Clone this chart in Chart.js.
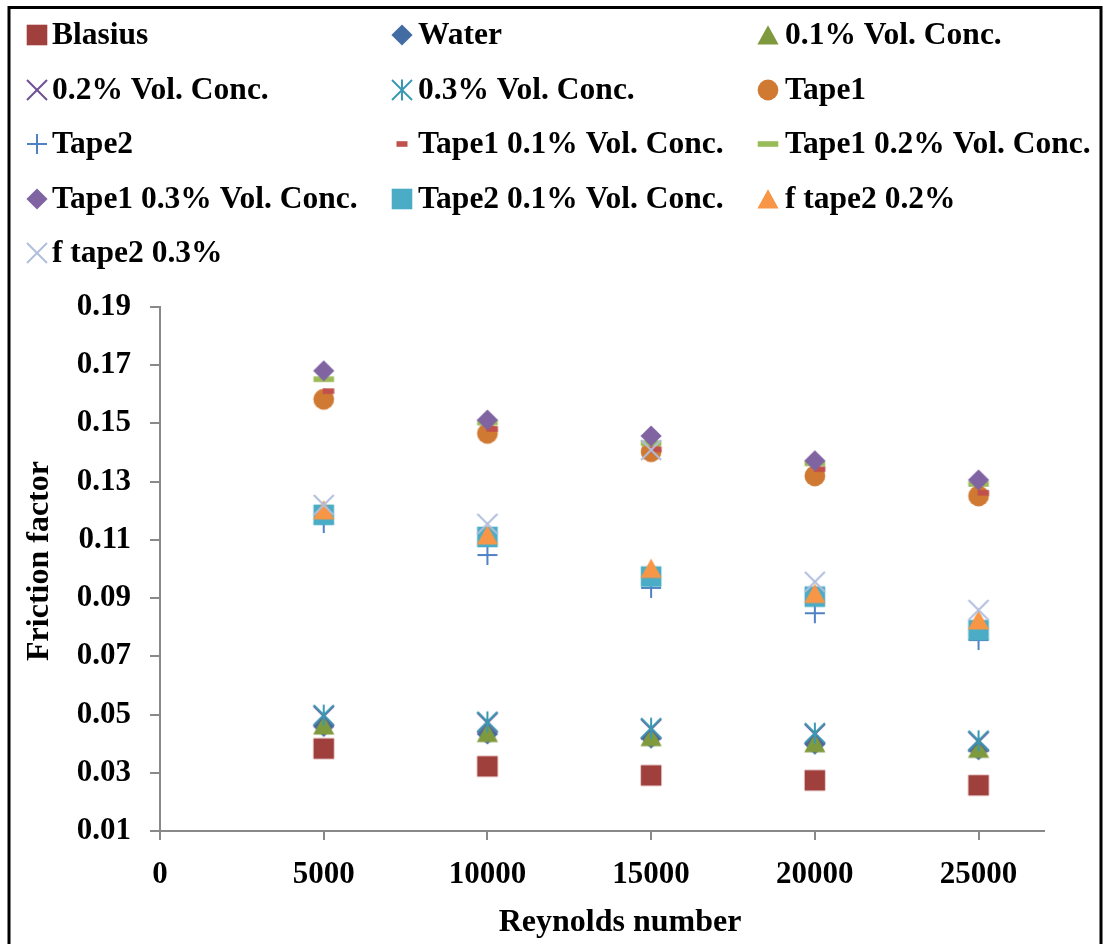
<!DOCTYPE html>
<html>
<head>
<meta charset="utf-8">
<title>Friction factor vs Reynolds number</title>
<script src="https://cdn.jsdelivr.net/npm/chart.js@4.4.1/dist/chart.umd.min.js"></script>
<style>
  html, body { margin: 0; padding: 0; background: #ffffff; }
  canvas { display: block; }
</style>
</head>
<body>
<canvas id="chart" width="1105" height="944"></canvas>
<script>
// Reynolds numbers at which every series was measured
const reynolds = [5000, 10000, 15000, 20000, 25000];

// Friction factor series
const blasius          = [0.0383, 0.0322, 0.0291, 0.0274, 0.0257];
const water            = [0.0459, 0.0433, 0.0419, 0.0398, 0.0379];
const conc01           = [0.0464, 0.0438, 0.0424, 0.0403, 0.0384];
const conc02           = [0.0495, 0.0472, 0.0450, 0.0433, 0.0407];
const conc03           = [0.0498, 0.0475, 0.0453, 0.0436, 0.0410];
const tape1            = [0.1583, 0.1466, 0.1403, 0.1320, 0.1251];
const tape2            = [0.1158, 0.1048, 0.0935, 0.0848, 0.0756];
const tape1Conc01      = [0.1611, 0.1481, 0.1411, 0.1343, 0.1262];
const tape1Conc02      = [0.1652, 0.1503, 0.1432, 0.1363, 0.1292];
const tape1Conc03      = [0.1681, 0.1512, 0.1457, 0.1372, 0.1306];
const tape2Conc01      = [0.1186, 0.1110, 0.0974, 0.0905, 0.0790];
const fTape2Conc02     = [0.1203, 0.1117, 0.1002, 0.0916, 0.0825];
const fTape2Conc03     = [0.1220, 0.1155, 0.1409, 0.0956, 0.0859];

// Series names, in legend order
const seriesNames = [
  'Blasius', 'Water', '0.1% Vol. Conc.',
  '0.2% Vol. Conc.', '0.3% Vol. Conc.', 'Tape1',
  'Tape2', 'Tape1 0.1% Vol. Conc.', 'Tape1 0.2% Vol. Conc.',
  'Tape1 0.3% Vol. Conc.', 'Tape2 0.1% Vol. Conc.', 'f tape2 0.2%',
  'f tape2 0.3%'
];
const seriesValues = [
  blasius, water, conc01, conc02, conc03, tape1, tape2,
  tape1Conc01, tape1Conc02, tape1Conc03, tape2Conc01, fTape2Conc02, fTape2Conc03
];

// Axis tick values
const frictionTicks = [0.01, 0.03, 0.05, 0.07, 0.09, 0.11, 0.13, 0.15, 0.17, 0.19];
const reynoldsTicks = [0, 5000, 10000, 15000, 20000, 25000];

// Marker look for each series
const seriesStyles = [
  { shape: 'square',    color: '#A0403C' },
  { shape: 'diamond',   color: '#436CA3' },
  { shape: 'triangle',  color: '#7F9A3E' },
  { shape: 'x',         color: '#6D4F93' },
  { shape: 'asterisk',  color: '#3A98B2' },
  { shape: 'circle',    color: '#CF7932' },
  { shape: 'plus',      color: '#4F81C4' },
  { shape: 'dashRight', color: '#C0504D', legendShape: 'dashSmall' },
  { shape: 'dash',      color: '#9BBB59' },
  { shape: 'diamond',   color: '#8064A2' },
  { shape: 'square',    color: '#4BACC6' },
  { shape: 'triangle',  color: '#F79646' },
  { shape: 'x',         color: '#AFBEDD' }
];

const FONT_FAMILY = "'Times New Roman', 'Liberation Serif', serif";

// Small canvas images used as point styles
function makeMarker(shape, color) {
  const size = 24;
  const c = document.createElement('canvas');
  c.width = size; c.height = size;
  const g = c.getContext('2d');
  const m = size / 2;
  g.fillStyle = color;
  g.strokeStyle = color;
  g.lineWidth = 2;
  g.lineCap = 'butt';
  const line = (x1, y1, x2, y2) => { g.beginPath(); g.moveTo(x1, y1); g.lineTo(x2, y2); g.stroke(); };
  switch (shape) {
    case 'square':
      g.fillRect(m - 10.3, m - 10.3, 20.6, 20.6);
      break;
    case 'diamond':
      g.beginPath();
      g.moveTo(m, m - 10.6); g.lineTo(m + 10.6, m); g.lineTo(m, m + 10.6); g.lineTo(m - 10.6, m);
      g.closePath(); g.fill();
      break;
    case 'circle':
      g.beginPath(); g.arc(m, m, 10.4, 0, Math.PI * 2); g.fill();
      break;
    case 'triangle':
      g.beginPath();
      g.moveTo(m, m - 9.8); g.lineTo(m + 10.6, m + 9.6); g.lineTo(m - 10.6, m + 9.6);
      g.closePath(); g.fill();
      break;
    case 'x':
      line(m - 10, m - 10, m + 10, m + 10);
      line(m + 10, m - 10, m - 10, m + 10);
      break;
    case 'asterisk':
      line(m - 10, m - 10, m + 10, m + 10);
      line(m + 10, m - 10, m - 10, m + 10);
      line(m, m - 10.5, m, m + 10.5);
      break;
    case 'plus':
      line(m - 10, m, m + 10, m);
      line(m, m - 10, m, m + 10);
      break;
    case 'dash':
      g.fillRect(m - 10.3, m - 2.8, 20.6, 5.6);
      break;
    case 'dashRight':
      g.fillRect(m - 1, m - 2.8, 11.5, 5.6);
      break;
    case 'dashSmall':
      g.fillRect(m - 5.5, m - 2.8, 11, 5.6);
      break;
  }
  return c;
}

const pointImages = seriesStyles.map(s => makeMarker(s.shape, s.color));
const legendImages = seriesStyles.map(s => makeMarker(s.legendShape || s.shape, s.color));

// Later series are painted over earlier ones
const datasets = seriesNames.map((name, i) => ({
  label: name,
  data: reynolds.map((re, k) => ({ x: re, y: seriesValues[i][k] })),
  pointStyle: pointImages[i],
  pointRadius: 10,
  pointHoverRadius: 10,
  showLine: false,
  order: seriesNames.length - i
}));

// Legend grid, axis titles and outer frame
const decorations = {
  id: 'decorations',
  afterDraw(chart) {
    const ctx = chart.ctx;
    ctx.save();

    // outer frame
    ctx.strokeStyle = '#000000';
    ctx.lineWidth = 3;
    ctx.strokeRect(9, 7.5, 1092, 1000);

    // legend: three columns
    const markerX = [37, 402, 768];
    const textX = [52, 418, 785];
    const rowY = [35, 89.5, 144, 198.5, 253];
    ctx.font = 'bold 31.5px ' + FONT_FAMILY;
    ctx.fillStyle = '#000000';
    ctx.textAlign = 'left';
    ctx.textBaseline = 'middle';
    seriesNames.forEach((name, i) => {
      const col = i % 3, row = Math.floor(i / 3);
      const img = legendImages[i];
      ctx.drawImage(img, Math.round(markerX[col] - img.width / 2), Math.round(rowY[row] - img.height / 2));
      ctx.fillText(name, textX[col], rowY[row] + 1);
    });

    // axis titles
    ctx.font = 'bold 32px ' + FONT_FAMILY;
    ctx.textAlign = 'center';
    ctx.fillText('Reynolds number', 620, 923);
    ctx.translate(40, 561);
    ctx.rotate(-Math.PI / 2);
    ctx.fillText('Friction factor', 0, 0);
    ctx.restore();
  }
};

const axisGrey = '#898989';
const tickFont = { family: FONT_FAMILY, size: 31, weight: 'bold' };

new Chart(document.getElementById('chart'), {
  type: 'scatter',
  data: { datasets },
  options: {
    responsive: false,
    animation: false,
    devicePixelRatio: 1,
    events: [],
    layout: { padding: { left: 0, top: 307, right: 61, bottom: 0 } },
    plugins: {
      legend: { display: false },
      tooltip: { enabled: false },
      title: { display: false }
    },
    scales: {
      x: {
        type: 'linear',
        min: 0,
        max: 27000,
        afterBuildTicks: scale => { scale.ticks = reynoldsTicks.map(v => ({ value: v })); },
        afterFit: scale => { scale.height = 113; },
        grid: { drawOnChartArea: false, drawTicks: true, tickLength: 9, color: axisGrey, lineWidth: 2 },
        border: { display: true, color: axisGrey, width: 2 },
        ticks: {
          font: tickFont,
          color: '#000000',
          padding: 16,
          maxRotation: 0,
          autoSkip: false,
          callback: v => String(v)
        }
      },
      y: {
        type: 'linear',
        min: 0.01,
        max: 0.19,
        afterBuildTicks: scale => { scale.ticks = frictionTicks.map(v => ({ value: v })); },
        afterFit: scale => { scale.width = 160; },
        grid: { drawOnChartArea: false, drawTicks: true, tickLength: 10, color: axisGrey, lineWidth: 2 },
        border: { display: true, color: axisGrey, width: 2 },
        ticks: {
          font: tickFont,
          color: '#000000',
          padding: 19,
          autoSkip: false,
          callback: v => v.toFixed(2)
        }
      }
    }
  },
  plugins: [decorations]
});
</script>
</body>
</html>
